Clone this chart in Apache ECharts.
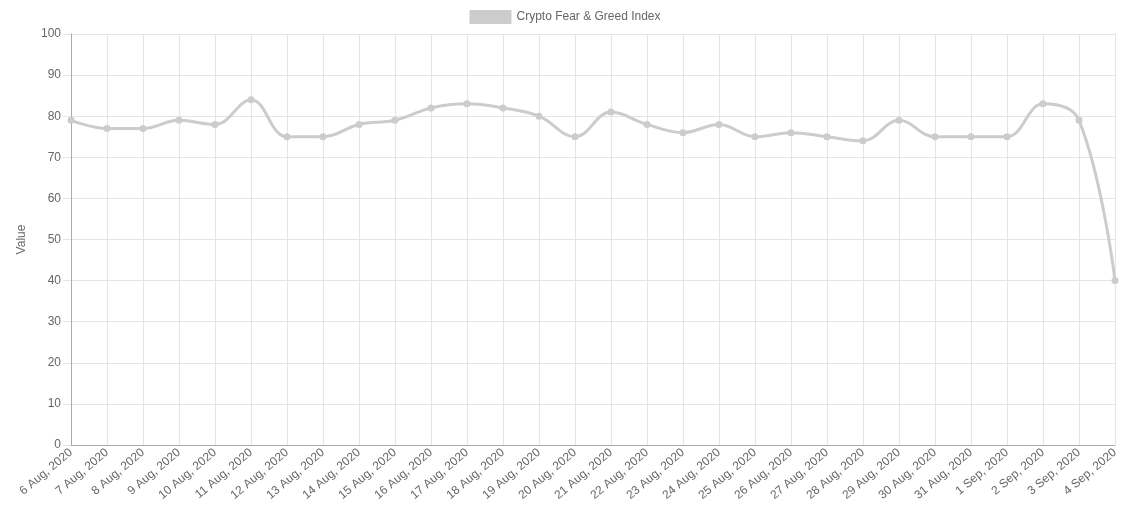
<!DOCTYPE html>
<html><head><meta charset="utf-8">
<script src="https://cdn.jsdelivr.net/npm/echarts@6/dist/echarts.min.js"></script>
<style>html,body{margin:0;padding:0;background:#fff}#c{width:1130px;height:512px}</style>
</head><body><div id="c"></div>
<script>
const categories = ["6 Aug, 2020","7 Aug, 2020","8 Aug, 2020","9 Aug, 2020","10 Aug, 2020","11 Aug, 2020","12 Aug, 2020","13 Aug, 2020","14 Aug, 2020","15 Aug, 2020","16 Aug, 2020","17 Aug, 2020","18 Aug, 2020","19 Aug, 2020","20 Aug, 2020","21 Aug, 2020","22 Aug, 2020","23 Aug, 2020","24 Aug, 2020","25 Aug, 2020","26 Aug, 2020","27 Aug, 2020","28 Aug, 2020","29 Aug, 2020","30 Aug, 2020","31 Aug, 2020","1 Sep, 2020","2 Sep, 2020","3 Sep, 2020","4 Sep, 2020"];
const values = [79,77,77,79,78,84,75,75,78,79,82,83,82,80,75,81,78,76,78,75,76,75,74,79,75,75,75,83,79,40];
const seriesName = "Crypto Fear & Greed Index";
const font = "'Liberation Sans', Arial, Helvetica, sans-serif";
const chart = echarts.init(document.getElementById('c'));
chart.setOption({
  animation: false,
  textStyle: {fontFamily: font},
  legend: {
    top: 10, left: 'center',
    itemWidth: 42, itemHeight: 14, itemGap: 6,
    icon: 'rect', padding: 0,
    textStyle: {color: '#666', fontSize: 12, fontFamily: font},
    data: [{name: seriesName, itemStyle: {color: '#cccccc'}}]
  },
  grid: {left: 71, right: 15, top: 34, bottom: 67, containLabel: false},
  xAxis: {
    type: 'category', data: categories, boundaryGap: false,
    axisLine: {lineStyle: {color: '#aaa', width: 1}},
    axisTick: {show: false},
    splitLine: {show: true, lineStyle: {color: '#e5e5e5'}},
    axisLabel: {rotate: 40, color: '#666', fontSize: 12, margin: 6, fontFamily: font, interval: 0}
  },
  yAxis: {
    type: 'value', min: 0, max: 100, interval: 10,
    name: 'Value', nameLocation: 'middle', nameGap: 43, nameRotate: 90,
    nameTextStyle: {color: '#666', fontSize: 12, fontFamily: font},
    axisLine: {show: true, lineStyle: {color: '#aaa', width: 1}},
    axisTick: {show: true, length: 8, lineStyle: {color: '#e5e5e5'}},
    splitLine: {show: true, lineStyle: {color: '#e5e5e5'}},
    axisLabel: {color: '#666', fontSize: 12, margin: 10, fontFamily: font}
  },
  series: [{
    name: seriesName, type: 'line', data: values,
    smooth: 0.4,
    symbol: 'circle', symbolSize: 7,
    lineStyle: {color: '#cccccc', width: 3},
    itemStyle: {color: '#cccccc'}
  }]
});
</script></body></html>
